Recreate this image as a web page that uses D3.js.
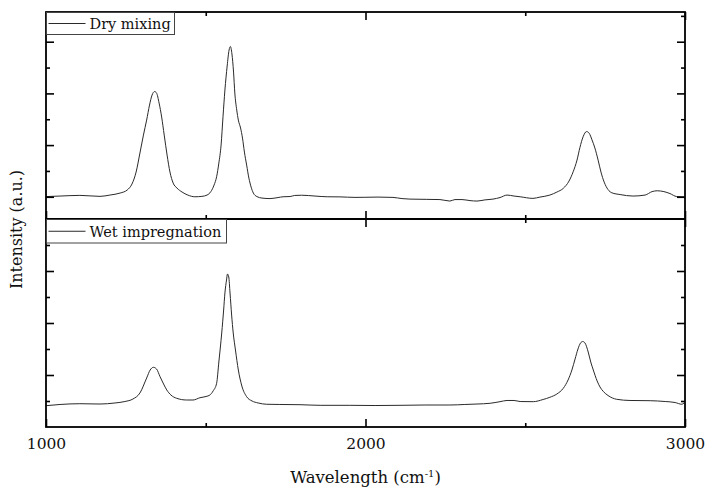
<!DOCTYPE html>
<html>
<head>
<meta charset="utf-8">
<script src="https://cdn.jsdelivr.net/npm/d3@7"></script>
<style>
  html, body { margin: 0; padding: 0; background: #fff; }
  svg { display: block; font-family: "DejaVu Serif", "Liberation Serif", serif; }
</style>
</head>
<body>
<svg id="chart" width="708" height="488"></svg>
<script>
// ---- data ----
const dryWavenumber = [1000,1044,1106,1169,1200,1232,1254,1269,1282,1294,1305,1315,1324,1332,1340,1346,1354,1362,1370,1379,1388,1398,1410,1426,1444,1466,1488,1504,1516,1526,1534,1541,1548,1554,1560,1567,1573,1577,1582,1587,1591,1597,1602,1609,1615,1621,1628,1635,1642,1649,1660,1676,1701,1726,1742,1764,1778,1800,1842,1880,1920,1967,1998,2039,2086,2114,2139,2192,2233,2264,2280,2302,2327,2349,2374,2399,2421,2443,2465,2484,2524,2546,2577,2599,2619,2637,2650,2662,2671,2681,2692,2700,2709,2718,2728,2737,2747,2759,2771,2797,2837,2875,2897,2913,2934,2953,2974,2997];
const dryIntensity = [0.004,0.014,0.027,0.008,0.033,0.072,0.13,0.246,0.478,0.846,1.194,1.484,1.775,1.968,2.036,2.007,1.813,1.542,1.194,0.807,0.478,0.265,0.168,0.091,0.033,0.0,0.008,0.033,0.1,0.226,0.387,0.652,1.0,1.548,2.065,2.53,2.839,2.907,2.762,2.413,2.007,1.678,1.484,1.33,1.136,0.865,0.613,0.362,0.188,0.072,0.004,-0.025,-0.035,-0.015,0.0,0.005,0.025,0.03,0.014,0.0,-0.002,-0.012,-0.01,-0.006,-0.012,-0.035,-0.045,-0.05,-0.054,-0.083,-0.054,-0.054,-0.074,-0.083,-0.06,-0.045,-0.015,0.033,0.014,0.0,-0.031,-0.006,0.033,0.091,0.163,0.304,0.484,0.71,0.95,1.16,1.262,1.23,1.1,0.943,0.71,0.478,0.284,0.14,0.077,0.043,0.014,0.033,0.1,0.116,0.1,0.062,0.004,-0.002];

const wetWavenumber = [1000,1044,1106,1169,1216,1247,1272,1294,1315,1326,1336,1346,1357,1368,1378,1391,1409,1440,1460,1482,1501,1513,1523,1534,1541,1550,1556,1560,1565,1568,1572,1576,1581,1586,1593,1602,1613,1628,1645,1664,1691,1732,1795,1858,1951,2030,2108,2186,2264,2311,2349,2390,2421,2443,2465,2484,2525,2556,2577,2599,2619,2634,2646,2656,2665,2673,2680,2687,2697,2705,2713,2725,2734,2745,2759,2786,2828,2891,2938,2969,2990,2997];
const wetIntensity = [0.41,0.433,0.448,0.442,0.462,0.49,0.538,0.654,0.942,1.096,1.148,1.115,0.967,0.827,0.712,0.615,0.552,0.519,0.519,0.563,0.587,0.615,0.692,0.84,1.25,1.808,2.25,2.577,2.827,2.942,2.885,2.577,2.154,1.808,1.481,1.096,0.788,0.583,0.5,0.462,0.437,0.433,0.429,0.417,0.417,0.413,0.417,0.423,0.423,0.433,0.442,0.456,0.487,0.51,0.51,0.49,0.487,0.529,0.571,0.635,0.744,0.904,1.096,1.308,1.5,1.615,1.644,1.615,1.442,1.25,1.096,0.885,0.769,0.679,0.606,0.533,0.51,0.506,0.49,0.471,0.437,0.462];

const seriesNames = ["Dry mixing", "Wet impregnation"];
const xMajorTicks = [1000, 2000, 3000];
const xMinorTicks = [1500, 2500];
const xTickLabels = ["1000", "2000", "3000"];
const yMajorTicksTop = [0, 1, 2, 3];
const yMinorTicksTop = [0.5, 1.5, 2.5, 3.5];
const yMajorTicksBottom = [1, 2, 3];
const yMinorTicksBottom = [0.5, 1.5, 2.5, 3.5];

// ---- layout ----
const svg = d3.select("#chart");
const left = 46, right = 685;
const panels = [
  { name: seriesNames[0], wn: dryWavenumber, val: dryIntensity, top: 12, bottom: 219, domain: [-0.43, 3.575], major: yMajorTicksTop, minor: yMinorTicksTop, legendW: 128, legendH: 22 },
  { name: seriesNames[1], wn: wetWavenumber, val: wetIntensity, top: 219, bottom: 427, domain: [0, 4], major: yMajorTicksBottom, minor: yMinorTicksBottom, legendW: 180, legendH: 23.5 }
];

const x = d3.scaleLinear().domain([1000, 3000]).range([left, right]);

const defs = svg.append("defs");

panels.forEach((p, i) => {
  const y = d3.scaleLinear().domain(p.domain).range([p.bottom, p.top]);
  const g = svg.append("g");

  defs.append("clipPath").attr("id", "clip" + i)
    .append("rect").attr("x", left).attr("y", p.top).attr("width", right - left).attr("height", p.bottom - p.top);

  const data = p.wn.map((w, k) => ({ w, v: p.val[k] }));
  const line = d3.line().x(d => x(d.w)).y(d => y(d.v)).curve(d3.curveMonotoneX);
  g.append("path").datum(data)
    .attr("clip-path", `url(#clip${i})`)
    .attr("d", line)
    .attr("fill", "none")
    .attr("stroke", "#2a2a2a")
    .attr("stroke-width", 1);

  const addAxis = (axis, transform) => {
    const a = g.append("g").attr("transform", transform).call(axis);
    a.select(".domain").remove();
    a.selectAll("text").remove();
    a.selectAll("line").attr("stroke", "#000").attr("stroke-width", 1.6);
  };
  addAxis(d3.axisLeft(y).tickValues(p.major).tickSizeInner(-8).tickSizeOuter(0), `translate(${left},0)`);
  addAxis(d3.axisLeft(y).tickValues(p.minor).tickSizeInner(-4).tickSizeOuter(0), `translate(${left},0)`);
  addAxis(d3.axisRight(y).tickValues(p.major).tickSizeInner(-8).tickSizeOuter(0), `translate(${right},0)`);
  addAxis(d3.axisRight(y).tickValues(p.minor).tickSizeInner(-4).tickSizeOuter(0), `translate(${right},0)`);
  addAxis(d3.axisTop(x).tickValues(xMajorTicks).tickSizeInner(-8).tickSizeOuter(0), `translate(0,${p.top})`);
  addAxis(d3.axisTop(x).tickValues(xMinorTicks).tickSizeInner(-4).tickSizeOuter(0), `translate(0,${p.top})`);
  addAxis(d3.axisBottom(x).tickValues(xMajorTicks).tickSizeInner(-8).tickSizeOuter(0), `translate(0,${p.bottom})`);
  addAxis(d3.axisBottom(x).tickValues(xMinorTicks).tickSizeInner(-4).tickSizeOuter(0), `translate(0,${p.bottom})`);

  g.append("rect").attr("x", left).attr("y", p.top).attr("width", right - left).attr("height", p.bottom - p.top)
    .attr("fill", "none").attr("stroke", "#000").attr("stroke-width", 1.8);

  const lg = svg.append("g").attr("transform", `translate(${left + 0.5},${p.top + 0.5})`);
  lg.append("rect").attr("width", p.legendW).attr("height", p.legendH)
    .attr("fill", "#fff").attr("stroke", "#444").attr("stroke-width", 1);
  lg.append("line").attr("x1", 2).attr("x2", 39).attr("y1", p.legendH / 2).attr("y2", p.legendH / 2)
    .attr("stroke", "#2a2a2a").attr("stroke-width", 1);
  lg.append("text").attr("x", 43).attr("y", p.legendH / 2 + 5.5)
    .attr("font-size", 14.5).attr("fill", "#111").text(p.name);
});

const xl = svg.append("g").attr("transform", `translate(0,427)`)
  .call(d3.axisBottom(x).tickValues(xMajorTicks).tickFormat((d, i) => xTickLabels[i]).tickSize(0).tickPadding(11));
xl.select(".domain").remove();
xl.selectAll("text").attr("font-size", 15.5).attr("font-family", "DejaVu Serif").attr("fill", "#111");

const xt = svg.append("text").attr("x", (left + right) / 2).attr("y", 483)
  .attr("text-anchor", "middle").attr("font-size", 16.5).attr("fill", "#111");
xt.append("tspan").text("Wavelength (cm");
xt.append("tspan").attr("dy", -6).attr("font-size", 10).text("-1");
xt.append("tspan").attr("dy", 6).text(")");

svg.append("text").attr("transform", `translate(22,${(12 + 427) / 2 + 10}) rotate(-90)`)
  .attr("text-anchor", "middle").attr("font-size", 16).attr("fill", "#111")
  .text("Intensity (a.u.)");
</script>
</body>
</html>
